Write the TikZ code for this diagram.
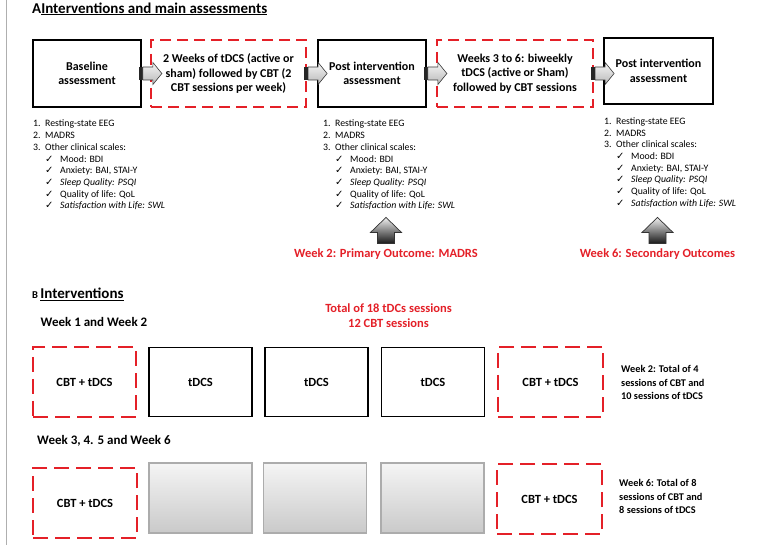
\documentclass[tikz,border=0pt]{standalone}
\usepackage{fontspec}
\setmainfont{Carlito}
\newfontfamily\symfont{DejaVu Sans}
\usetikzlibrary{calc}

\definecolor{dashred}{RGB}{228,32,40}
\definecolor{framegray}{RGB}{175,175,175}

\newcommand{\fsz}[2]{\fontsize{#1}{#2}\selectfont}
\newcommand{\chk}{{\symfont\fontsize{10}{10}\selectfont ✓}}
\newcommand{\numln}[2]{\makebox[12pt][l]{#1}#2}
\newcommand{\chkln}[1]{\hspace*{12pt}\makebox[15pt][l]{\chk}#1}
\newcommand{\ulin}[1]{\setbox0\hbox{#1}\rlap{\rule[-1.9pt]{\wd0}{1.2pt}}\box0}

% horizontal block arrow from node #1 to node #2
\newcommand{\blockarrow}[2]{%
  \coordinate (tail) at ($(#1.east)+(-3,0)$);
  \coordinate (tip) at ($(tail)+(23,0)$);
  \fill[black!85] ($(tail)+(0,-6.5)$) rectangle ($(tail)+(4,6.5)$);
  \shade[top color=gray!8,bottom color=gray!55,draw=gray!45!black,line width=0.6pt]
    ($(tail)+(4,-6.5)$) -- ($(tip)+(-9,-6.5)$) -- ($(tip)+(-9,-11)$) -- (tip)
    -- ($(tip)+(-9,11)$) -- ($(tip)+(-9,6.5)$) -- ($(tail)+(4,6.5)$) -- cycle;
}
% upward block arrow standing on node #1
\newcommand{\liftarrow}[1]{%
  \coordinate (foot) at ($(#1.north)+(0,-5)$);
  \shade[top color=gray!12,bottom color=black!90,draw=black!80,line width=0.7pt]
    ($(foot)+(-8.5,0)$) -- ($(foot)+(-8.5,-11)$) -- ($(foot)+(-15.5,-11)$) -- ($(foot)+(0,-26)$)
    -- ($(foot)+(15.5,-11)$) -- ($(foot)+(8.5,-11)$) -- ($(foot)+(8.5,0)$) -- cycle;
}

\begin{document}
\begin{tikzpicture}[x=1pt,y=-1pt,
  every node/.style={inner sep=0pt},
  solidbox/.style={draw=black,line width=1.8pt,minimum width=108pt,minimum height=67pt,
    align=center,font=\bfseries\fsz{12}{14.5}},
  planbox/.style={draw=dashred,line width=2.2pt,dash pattern=on 11pt off 6pt,
    minimum width=155pt,minimum height=67pt,align=center,font=\bfseries\fsz{12}{14.5}},
  sessbox/.style={draw=black,line width=1.8pt,minimum width=103pt,minimum height=69pt,
    font=\bfseries\fsz{12.5}{15}},
  cbtbox/.style={draw=dashred,line width=2.5pt,dash pattern=on 15pt off 7pt,
    minimum width=104pt,minimum height=70pt,font=\bfseries\fsz{12.5}{15}},
  graybox/.style={draw=gray!65,line width=1.2pt,top color=gray!8,bottom color=gray!42,
    minimum width=103pt,minimum height=70pt},
  listtext/.style={anchor=north west,align=left,font=\fsz{9.8}{11.7}},
  outcome/.style={text=dashred,font=\bfseries\fsz{12.5}{15}},
  heading/.style={anchor=base west,font=\bfseries\fsz{13}{15}},
  note/.style={anchor=north west,align=left,font=\bfseries\fsz{10.3}{13.5}}
]
\useasboundingbox (0,0) rectangle (761,545);
\fill[white] (0,0) rectangle (761,545);
\draw[framegray,line width=1.5pt] (6.5,0) -- (6.5,545);

% ---------- Part A ----------
\node[anchor=base west,font=\bfseries\fsz{15}{17}] (titleA) at (32,13.5)
  {A\ulin{Interventions and main assessments}};

\node[solidbox] (base) at (87,73.5) {Baseline\\assessment};
\node[planbox] (prep1) at (228.5,73.5) {2 Weeks of tDCS (active or\\sham) followed by CBT (2\\CBT sessions per week)};
\node[solidbox] (post1) at (372,73.5) {Post intervention\\assessment};
\node[planbox,minimum width=156pt] (prep2) at (515,73.5) {Weeks 3 to 6: biweekly\\tDCS (active or Sham)\\followed by CBT sessions};
\node[solidbox,minimum width=109pt,minimum height=66pt] (post2) at (658.5,71) {Post intervention\\assessment};

\blockarrow{base}{prep1}
\blockarrow{prep1}{post1}
\blockarrow{post1}{prep2}
\blockarrow{prep2}{post2}

\node[listtext] (list1) at (33,120) {%
  \numln{1.}{Resting-state EEG}\\
  \numln{2.}{MADRS}\\
  \numln{3.}{Other clinical scales:}\\
  \chkln{Mood: BDI}\\
  \chkln{Anxiety: BAI, STAI-Y}\\
  \chkln{\itshape Sleep Quality: PSQI}\\
  \chkln{Quality of life: QoL}\\
  \chkln{\itshape Satisfaction with Life: SWL}};
\node[listtext] (list2) at (323,120) {%
  \numln{1.}{Resting-state EEG}\\
  \numln{2.}{MADRS}\\
  \numln{3.}{Other clinical scales:}\\
  \chkln{Mood: BDI}\\
  \chkln{Anxiety: BAI, STAI-Y}\\
  \chkln{\itshape Sleep Quality: PSQI}\\
  \chkln{Quality of life: QoL}\\
  \chkln{\itshape Satisfaction with Life: SWL}};
\node[listtext] (list3) at (604,117.5) {%
  \numln{1.}{Resting-state EEG}\\
  \numln{2.}{MADRS}\\
  \numln{3.}{Other clinical scales:}\\
  \chkln{Mood: BDI}\\
  \chkln{Anxiety: BAI, STAI-Y}\\
  \chkln{\itshape Sleep Quality: PSQI}\\
  \chkln{Quality of life: QoL}\\
  \chkln{\itshape Satisfaction with Life: SWL}};

\node[outcome] (out1) at (386,254) {Week 2: Primary Outcome: MADRS};
\node[outcome] (out2) at (657.5,254) {Week 6: Secondary Outcomes};
\liftarrow{out1}
\liftarrow{out2}

% ---------- Part B ----------
\node[anchor=base west] (titleB) at (32,299)
  {{\bfseries\fsz{10.5}{12}B} {\bfseries\fsz{15}{17}\ulin{Interventions}}};
\node[outcome,align=center] (total) at (388.5,315.5) {Total of 18 tDCs sessions\\12 CBT sessions};

\node[heading] (wk12) at (40.5,327) {Week 1 and Week 2};
\node[cbtbox,minimum width=103pt] (s1) at (84.5,382) {CBT + tDCS};
\node[sessbox] (s2) at (200.5,382) {tDCS};
\node[sessbox] (s3) at (316.5,382) {tDCS};
\node[sessbox] (s4) at (433,382) {tDCS};
\node[cbtbox,minimum width=105pt] (s5) at (550.5,382) {CBT + tDCS};
\node[note] (note1) at (621,365.5) {Week 2: Total of 4\\sessions of CBT and\\10 sessions of tDCS};

\node[heading] (wk36) at (37,445) {Week 3, 4. 5 and Week 6};
\node[cbtbox] (t1) at (85,503) {CBT + tDCS};
\node[graybox] (t2) at (200.5,498) {};
\node[graybox] (t3) at (315,498) {};
\node[graybox] (t4) at (432.5,498) {};
\node[cbtbox,minimum width=105pt] (t5) at (549.5,499) {CBT + tDCS};
\node[note] (note2) at (619,479.5) {Week 6: Total of 8\\sessions of CBT and\\8 sessions of tDCS};
\end{tikzpicture}
\end{document}
